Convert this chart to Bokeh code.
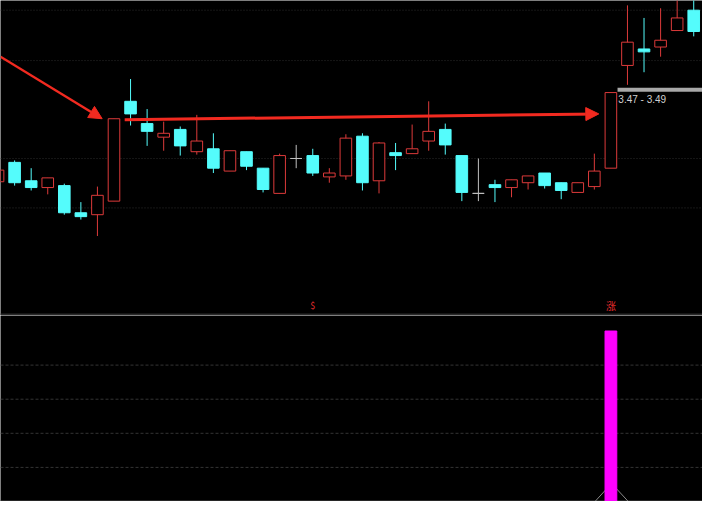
from bokeh.plotting import figure
from bokeh.layouts import column
from bokeh.models import ColumnDataSource, Arrow, NormalHead, Span, Label, Range1d
from bokeh.embed import file_html
from bokeh.resources import INLINE
from bokeh.core.properties import value

# ---------------- data ----------------
bar_index = list(range(43))
opens = [3.102, 3.182, 3.106, 3.078, 3.086, 2.974, 2.966, 3.022, 3.434, 3.342,
         3.286, 3.318, 3.226, 3.238, 3.146, 3.226, 3.158, 3.054, 3.198, 3.210,
         3.122, 3.126, 3.290, 3.106, 3.222, 3.218, 3.270, 3.318, 3.210, 3.054,
         3.090, 3.078, 3.098, 3.138, 3.098, 3.058, 3.082, 3.158, 3.582, 3.650,
         3.658, 3.726, 3.810]
highs = [3.150, 3.190, 3.158, 3.118, 3.094, 3.018, 3.082, 3.362, 3.526, 3.402,
         3.350, 3.330, 3.378, 3.302, 3.230, 3.226, 3.158, 3.218, 3.254, 3.238,
         3.158, 3.298, 3.302, 3.266, 3.262, 3.338, 3.434, 3.342, 3.210, 3.198,
         3.110, 3.110, 3.126, 3.138, 3.098, 3.098, 3.218, 3.470, 3.830, 3.778,
         3.818, 3.870, 3.870]
lows = [3.102, 3.086, 3.066, 3.050, 2.966, 2.946, 2.878, 3.022, 3.334, 3.250,
        3.230, 3.210, 3.214, 3.138, 3.146, 3.150, 3.058, 3.054, 3.158, 3.126,
        3.098, 3.110, 3.066, 3.054, 3.150, 3.218, 3.230, 3.214, 3.022, 3.022,
        3.018, 3.038, 3.070, 3.074, 3.030, 3.058, 3.070, 3.158, 3.502, 3.554,
        3.618, 3.726, 3.702]
closes = [3.150, 3.098, 3.078, 3.118, 2.974, 2.958, 3.046, 3.362, 3.382, 3.310,
          3.302, 3.250, 3.270, 3.158, 3.230, 3.166, 3.070, 3.210, 3.198, 3.138,
          3.138, 3.282, 3.098, 3.262, 3.210, 3.238, 3.310, 3.254, 3.058, 3.054,
          3.078, 3.110, 3.126, 3.086, 3.066, 3.098, 3.146, 3.470, 3.678, 3.638,
          3.686, 3.778, 3.722]

grid_prices = [2.994, 3.198, 3.602, 3.810]
price_label = "3.47 - 3.49"
price_level = 3.482

signal_index = [19, 37]
signal_text = ["$", "涨"]
signal_size = ["9px", "10px"]
signal_price = [2.592, 2.592]

bar_signal_index = [37]
bar_signal_value = [5.0]
lower_grid = [1, 2, 3, 4]

# arrows (index, price)
arrow1_start = (0.148, 3.618)
arrow1_end = (6.287, 3.362)
arrow2_start = (7.645, 3.358)
arrow2_end = (36.27, 3.382)

UP = "#dc3a3a"
DOWN = "#54fcfc"
FLAT = "#c0c0c0"
ARROW = "#f22a20"

colors, fills, tops, bottoms = [], [], [], []
for o, c in zip(opens, closes):
    if c > o:
        colors.append(UP); fills.append("black")
    elif c < o:
        colors.append(DOWN); fills.append(DOWN)
    else:
        colors.append(FLAT); fills.append(FLAT)
    tops.append(max(o, c)); bottoms.append(min(o, c))

src = ColumnDataSource(dict(x=bar_index, high=highs, low=lows, top=tops,
                            bottom=bottoms, color=colors, fill=fills))

xr = Range1d(0.148, 42.53)

# ---------------- top panel ----------------
p = figure(width=702, height=315, x_range=xr, y_range=Range1d(2.55, 3.85),
           output_backend="svg", toolbar_location=None,
           x_axis_location=None, y_axis_location=None,
           background_fill_color="black", border_fill_color="black",
           min_border=0, outline_line_color=None)
p.grid.visible = False

for g in grid_prices:
    p.add_layout(Span(location=g, dimension="width", line_color="#2c2c2c",
                      line_width=1, line_dash="1 2", level="underlay"))

p.segment(x0="x", y0="high", x1="x", y1="low", color="color", line_width=1, source=src)
p.vbar(x="x", width=0.70, top="top", bottom="bottom", fill_color="fill",
       line_color="color", line_width=1, source=src)

# price level line and label
p.line(x=[37.40, 43.0], y=[price_level, price_level], line_color="#a8a8a8", line_width=4)
p.add_layout(Label(x=37.45, y=3.442, text=price_label, text_color="#d0d0d0",
                   text_font="Liberation Sans", text_font_size="10px",
                   text_baseline="middle", text_align="left"))

# separator line
p.add_layout(Span(location=2.554, dimension="width", line_color="#2a2a2a", line_width=2))

# signal texts
sig = ColumnDataSource(dict(x=signal_index, y=signal_price, t=signal_text, s=signal_size))
p.text(x="x", y="y", text="t", text_font_size="s", source=sig,
       text_font=value("Noto Sans CJK SC"), text_color="#e02c2c",
       text_align="center", text_baseline="middle")

# arrows
p.add_layout(Arrow(x_start=arrow1_start[0], y_start=arrow1_start[1],
                   x_end=arrow1_end[0], y_end=arrow1_end[1],
                   line_color=ARROW, line_width=2.5,
                   end=NormalHead(size=13, fill_color=ARROW, line_color=ARROW)))
p.add_layout(Arrow(x_start=arrow2_start[0], y_start=arrow2_start[1],
                   x_end=arrow2_end[0], y_end=arrow2_end[1],
                   line_color=ARROW, line_width=3,
                   end=NormalHead(size=13, fill_color=ARROW, line_color=ARROW)))

# ---------------- bottom panel ----------------
p2 = figure(width=702, height=186, x_range=xr, y_range=Range1d(0.0, 5.455),
            output_backend="svg", toolbar_location=None,
            x_axis_location=None, y_axis_location=None,
            background_fill_color="black", border_fill_color="black",
            min_border=0, outline_line_color=None)
p2.grid.visible = False
for g in lower_grid:
    p2.add_layout(Span(location=g, dimension="width", line_color="#343434",
                       line_width=1, line_dash="3 2", level="underlay"))
p2.add_layout(Span(location=0.02, dimension="width", line_color="#3a3a3a",
                   line_width=1, level="underlay"))

p2.line(x=[36.04, 37.04, 38.05], y=[0, 0.53, 0], line_color="#8a8a8a", line_width=1)
p2.vbar(x=bar_signal_index, top=bar_signal_value, bottom=0, width=0.71,
        fill_color="#ff00ff", line_color="#ff00ff")

layout = column(p, p2, spacing=0)
open("out.html", "w").write(file_html(layout, INLINE))
